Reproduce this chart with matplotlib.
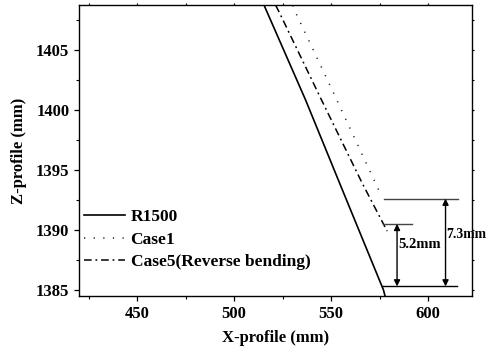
import numpy as np
import matplotlib
matplotlib.use("Agg")
import matplotlib.pyplot as plt
from matplotlib.ticker import MultipleLocator

plt.rcParams['font.family'] = ['Liberation Serif', 'DejaVu Serif']
plt.rcParams['font.weight'] = 'bold'

# profiles
r1500_x = [515.3, 536.8, 556.9, 577.0, 577.8]
r1500_z = [1408.75, 1400.83, 1392.9, 1385.0, 1384.5]

case1_x = [530.3, 530.8, 551.7, 574.3, 576.3]
case1_z = [1408.7, 1408.4, 1401.25, 1393.4, 1392.8]

case5_x = [521.4, 523.0, 544.5, 566.0, 578.9]
case5_z = [1408.7, 1408.2, 1401.0, 1393.9, 1389.9]

base_z = 1385.3
case5_end = 1390.5
case1_end = 1392.6

fig = plt.figure(figsize=(4.86, 3.5), dpi=100)
ax = fig.add_axes([0.1626, 0.1543, 0.8080, 0.8306])

ax.plot(r1500_x, r1500_z, color='black', lw=1.2, label='R1500')
ax.plot(case1_x, case1_z, color='#222222', lw=1.1, dashes=(0.8, 5.5), label='Case1')
ax.plot(case5_x, case5_z, color='black', lw=1.1, dashes=(5, 2.5, 1.2, 2.5),
        label='Case5(Reverse bending)')

# reference levels
ax.plot([576.0, 615.0], [base_z, base_z], color='black', lw=1.0)
ax.plot([576.8, 591.7], [case5_end, case5_end], color='#444444', lw=1.0)
ax.plot([577.1, 615.2], [case1_end, case1_end], color='#444444', lw=1.0)

arr = dict(arrowstyle='<|-|>', color='black', lw=1.0, mutation_scale=9,
           shrinkA=0, shrinkB=0)
ax.annotate('', xy=(584.0, case5_end), xytext=(584.0, base_z), arrowprops=arr)
ax.annotate('', xy=(609.0, case1_end), xytext=(609.0, base_z), arrowprops=arr)
ax.text(584.6, 1388.75, '5.2mm', fontsize=10.5, fontweight='bold', va='center', ha='left')
ax.text(609.3, 1389.6, '7.3mm', fontsize=9.8, fontweight='bold', va='center', ha='left',
        clip_on=False)

ax.set_xlim(420, 622.5)
ax.set_ylim(1384.5, 1408.7)
ax.xaxis.set_major_locator(MultipleLocator(50))
ax.xaxis.set_minor_locator(MultipleLocator(25))
ax.yaxis.set_major_locator(MultipleLocator(5))
ax.yaxis.set_minor_locator(MultipleLocator(2.5))

ax.tick_params(which='major', direction='out', length=3.5, width=0.9, labelsize=12)
ax.tick_params(which='minor', direction='out', length=2, width=0.8)
ax.tick_params(axis='x', which='both', top=True)
ax.tick_params(axis='y', which='both', right=True)
# short ticks on the top and right frames
for t in ax.xaxis.get_major_ticks() + ax.xaxis.get_minor_ticks():
    t.tick2line.set_markersize(1.5)
for t in ax.yaxis.get_major_ticks() + ax.yaxis.get_minor_ticks():
    t.tick2line.set_markersize(1.5)
for lab in ax.get_xticklabels() + ax.get_yticklabels():
    lab.set_fontweight('bold')

for s in ax.spines.values():
    s.set_linewidth(1.0)

ax.set_xlabel('X-profile (mm)', fontsize=12, fontweight='bold', labelpad=6)
ax.set_ylabel('Z-profile (mm)', fontsize=12, fontweight='bold', labelpad=6)

leg = ax.legend(loc='upper left', bbox_to_anchor=(0.012, 0.30), frameon=False,
                handlelength=2.4, handletextpad=0.3,
                labelspacing=0.38, borderpad=0, borderaxespad=0,
                prop={'weight': 'bold', 'size': 12.5})

fig.savefig('out.png', dpi=100)
